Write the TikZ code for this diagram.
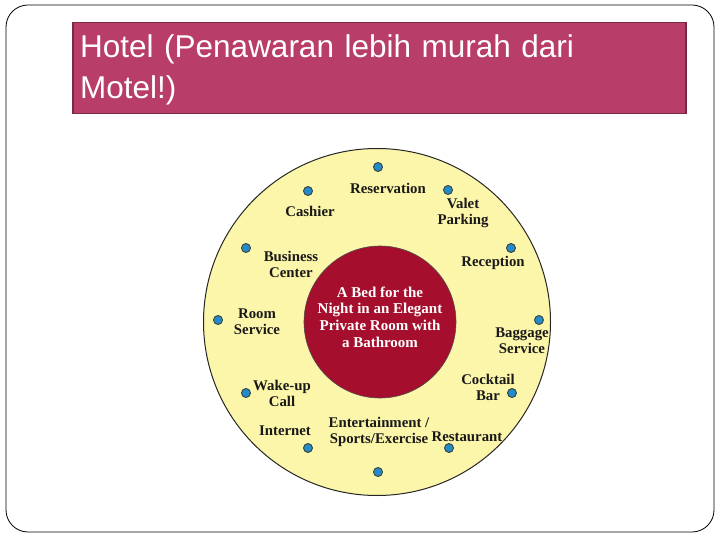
\documentclass[tikz,border=0pt]{standalone}
\usepackage{fontspec}
\setmainfont{Liberation Sans}
\newfontfamily\servfont{Liberation Serif}
\usetikzlibrary{positioning}
\usepackage{xcolor}
\definecolor{titlepink}{RGB}{184,61,104}
\definecolor{titleedge}{RGB}{122,40,72}
\definecolor{ringyellow}{RGB}{252,246,170}
\definecolor{corered}{RGB}{165,15,45}
\definecolor{dotblue}{RGB}{32,140,200}

\begin{document}
\begin{tikzpicture}[x=1pt, y=-1pt]
        \tikzstyle{titlebox} = [rectangle, draw=titleedge, fill=titlepink, line width=1.5pt,
          minimum width=613pt, minimum height=91pt, inner sep=0pt]
        \tikzstyle{ring} = [circle, draw=black!85, fill=ringyellow, line width=1pt,
          minimum size=347pt, inner sep=0pt]
        \tikzstyle{core} = [circle, draw=black!70, fill=corered, line width=0.6pt,
          minimum size=152pt, inner sep=0pt]
        \tikzstyle{coretext} = [align=center, inner sep=0pt, text=white,
          font=\servfont\bfseries\fontsize{15}{16.7}\selectfont]
        \tikzstyle{svcdot} = [circle, draw=black!75, fill=dotblue, line width=0.9pt,
          minimum size=9pt, inner sep=0pt]
        \tikzstyle{svc} = [align=center, inner sep=0pt, text=black!90,
          font=\servfont\bfseries\fontsize{14.8}{16}\selectfont]

        \useasboundingbox (0,0) rectangle (720,540);
        \draw[line width=0.8pt, rounded corners=22pt] (6,5) rectangle (714,532);

        % title
        \node[titlebox, anchor=north west] (title) at (72,22) {};
        \node[anchor=north west, inner sep=0pt, text=white, text width=595pt, align=left,
          font=\fontsize{31.5}{41}\selectfont] (titletext) at (80,34)
          {Hotel (Penawaran lebih murah dari\\Motel!)};

        % product rings
        \node[ring] (ring) at (377,322) {};
        \node[core] (core) at (380,322) {};
        \node[coretext] (coretext) at ([yshift=5pt]core.center)
          {A Bed for the\\Night in an Elegant\\Private Room with\\a Bathroom};

        \foreach \name/\px/\py in {resv/378/167, valet/448/190, recep/511/248, bag/539/320,
            bar/512/393, rest/449/448, sport/378/472, net/308/448, wake/246/393,
            room/218/320, biz/246/248, cash/308/191}
          \node[svcdot] (dot-\name) at (\px,\py) {};

        \foreach \name/\px/\py/\txt in {reservation/388/188/{Reservation},
            cashier/310/211/{Cashier}, valet/463/213/{Valet\\Parking},
            business/291/264/{Business\\Center}, reception/493/263/{Reception},
            room/257/322/{Room\\Service}, baggage/522/341/{Baggage\\Service},
            wakeup/282/393/{Wake-up\\Call}, cocktail/488/387/{Cocktail\\Bar},
            internet/285/431/{Internet}, entertain/379/432/{Entertainment /\\Sports/Exercise},
            restaurant/467/437/{Restaurant}}
          \node[svc] (\name) at (\px,\py) {\txt};
      \end{tikzpicture}
\end{document}
